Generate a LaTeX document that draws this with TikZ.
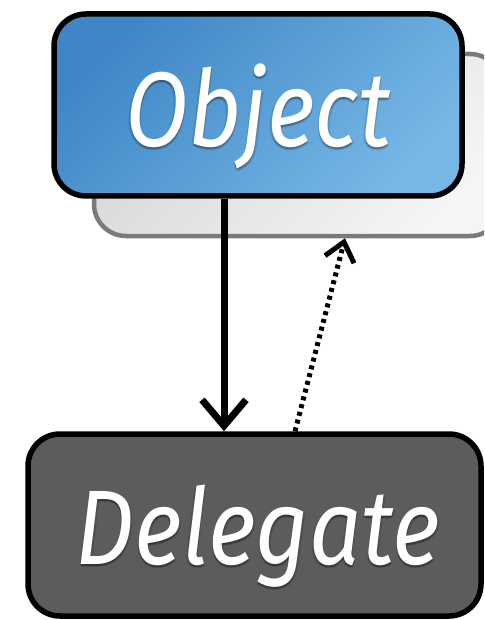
\documentclass[tikz,border=0pt]{standalone}
\usepackage{fontspec}
\setmainfont{Fira Sans}
\newfontfamily\labelfont[FakeStretch=0.87]{Fira Sans}
\usetikzlibrary{arrows.meta}
\definecolor{objdark}{RGB}{62,134,198}
\definecolor{objlight}{RGB}{118,183,230}
\definecolor{shadedark}{RGB}{214,214,214}
\definecolor{shadelight}{RGB}{245,245,245}
\definecolor{shadeline}{RGB}{122,122,122}
\definecolor{delegray}{RGB}{92,92,92}

\tikzset{
  box/.style={rounded corners=32pt, minimum width=408pt, minimum height=182pt,
    inner sep=0pt, line width=5.5pt, draw=black},
  boxtext/.style={font=\labelfont\fontsize{106}{116}\selectfont\itshape, text=white,
    text depth=0pt, inner sep=0pt},
  boxshade/.style={boxtext, text=black, opacity=0.12},
  link/.style={line width=7pt, -{Straight Barb[length=26pt,width=44pt]}},
  backlink/.style={line width=5pt, dash pattern=on 4pt off 4pt,
    -{Straight Barb[length=18pt,width=30pt]}}
}

\begin{document}
\begin{tikzpicture}[x=1pt,y=-1pt]
    \path[use as bounding box, clip] (0,0) rectangle (484,620);

    % boxes
    \node[box, draw=shadeline, line width=4.5pt, top color=shadedark,
      bottom color=shadelight, shading angle=45] (objshadow) at (298,145) {};
    \node[box, top color=objdark, bottom color=objlight, shading angle=45]
      (object) at (258,105) {};
    \node[box, fill=delegray, minimum width=453pt] (delegate) at (254.5,525) {};

    % labels
    \foreach \dx/\dy in {0/3,1.5/2,-1.5/2,0/1.5} {
      \node[boxshade] at ([shift={(\dx,\dy)}]object.center) {Object};
      \node[boxshade] at ([shift={(3.5+\dx,\dy)}]delegate.center) {Delegate};
    }
    \node[boxtext] (objlabel) at (object.center) {Object};
    \node[boxtext] (delelabel) at ([xshift=3.5pt]delegate.center) {Delegate};

    % connectors
    \draw[link] ([xshift=-34pt]object.south) -- ([xshift=-34pt]object.south |- delegate.north);
    \draw[backlink] ([xshift=40.5pt]delegate.north) -- ([xshift=47pt]objshadow.south);
\end{tikzpicture}
\end{document}
